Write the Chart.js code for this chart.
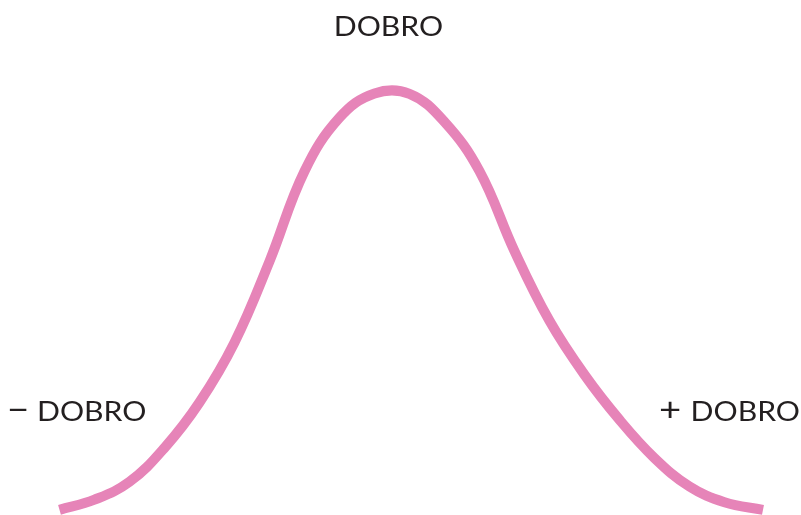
<!DOCTYPE html>
<html>
<head>
<meta charset="utf-8">
<script src="https://cdn.jsdelivr.net/npm/chart.js@4.4.1/dist/chart.umd.min.js"></script>
<style>
    html, body { margin: 0; padding: 0; background: #fff; }
    #wrap { width: 801px; height: 515px; position: relative; }
</style>
</head>
<body>
<div id="wrap"><canvas id="curve"></canvas></div>
<script>
// bell curve (x: position, y: height)
const xValues = [-9.5, -8.5, -7.5, -6.5, -5.5, -4.5, -3.5, -2.5, -1.5, -0.5,
    0.5, 1.5, 2.5, 3.5, 4.5, 5.5, 6.5, 7.5, 8.5, 9.5, 10.6];
const yValues = [1.2, 3.6, 7.8, 15.8, 26.5, 40.6, 59.7, 80.9, 93.5, 99.2,
    99.1, 92.5, 80.9, 62.1, 45.7, 33.0, 22.4, 13.4, 6.7, 3.0, 1.2];
const word = 'DOBRO';
const minusSign = '\u2212';
const plusSign = '+';

const points = xValues.map((x, i) => ({ x: x, y: yValues[i] }));

// draws the three captions (font stretched a bit to look like the wide original)
const captions = {
    id: 'captions',
    afterDraw(chart) {
        const ctx = chart.ctx;
        const xs = chart.scales.x;
        const stretch = 1.16;
        ctx.save();
        ctx.fillStyle = '#231f20';
        ctx.font = '26px Lato';
        ctx.textBaseline = 'alphabetic';
        ctx.textAlign = 'left';

        const w = ctx.measureText(word).width * stretch;
        const put = (txt, x, y) => {
            ctx.save();
            ctx.translate(x, y);
            ctx.scale(stretch, 1);
            ctx.fillText(txt, 0, 0);
            ctx.restore();
        };

        put(word, xs.getPixelForValue(-0.1) - w / 2, 36);
        put(word, 37, 421);
        put(word, 800 - w, 421);

        ctx.font = '33px Lato';
        put(minusSign, 7, 421);
        put(plusSign, 659, 421);
        ctx.restore();
    }
};

new Chart(document.getElementById('curve'), {
    type: 'line',
    data: {
        datasets: [{
            data: points,
            borderColor: '#e684b8',
            borderWidth: 10,
            pointRadius: 0,
            fill: false,
            tension: 0.4,
            borderCapStyle: 'butt'
        }]
    },
    options: {
        responsive: true,
        maintainAspectRatio: false,
        animation: false,
        layout: { padding: 0 },
        plugins: {
            legend: { display: false },
            tooltip: { enabled: false }
        },
        scales: {
            x: { type: 'linear', display: false, min: -11.2, max: 11.686 },
            y: { display: false, min: 0, max: 121.18 }
        }
    },
    plugins: [captions]
});
</script>
</body>
</html>
